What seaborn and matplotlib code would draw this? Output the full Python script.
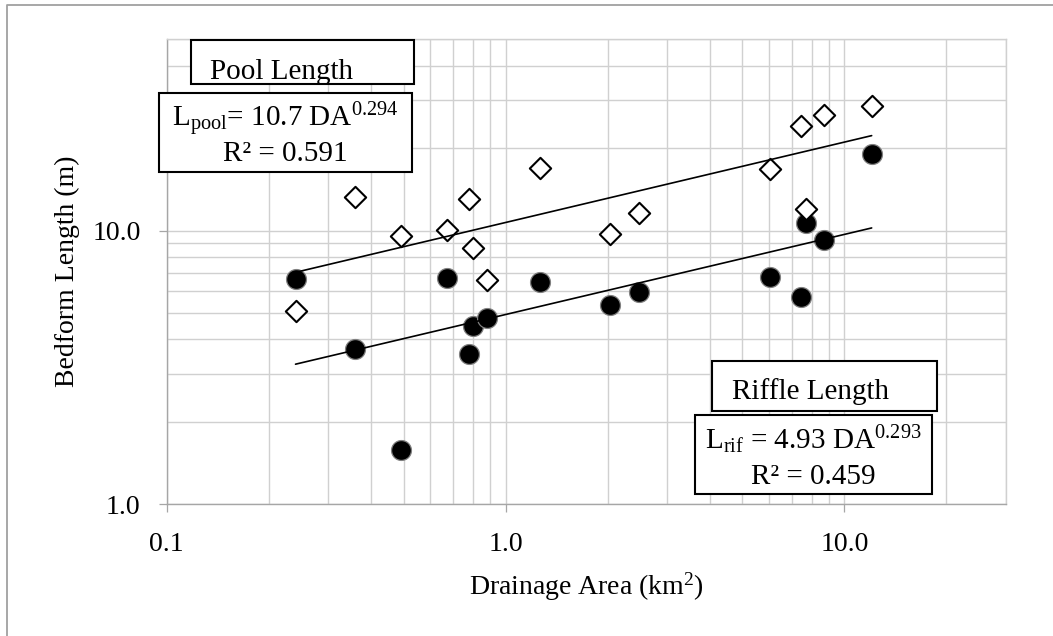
import numpy as np
import pandas as pd
import matplotlib
matplotlib.use("Agg")
import matplotlib.pyplot as plt
import seaborn as sns
from matplotlib.patches import Rectangle
from matplotlib.lines import Line2D
from matplotlib.ticker import LogLocator, FuncFormatter, NullFormatter

# Site drainage areas (km2) and measured bedform lengths (m)
drainage_area = [0.24, 0.36, 0.49, 0.67, 0.78, 0.80, 0.88, 1.26, 2.03, 2.47, 6.05, 7.45, 7.71, 8.73, 12.04]
pool_length = [5.08, 13.3, 9.56, 10.06, 13.06, 8.66, 6.60, 16.9, 9.72, 11.6, 16.8, 24.2, 12.0, 26.4, 28.6]
riffle_length = [6.64, 3.68, 1.57, 6.70, 3.53, 4.48, 4.78, 6.48, 5.32, 5.95, 6.75, 5.71, 10.7, 9.25, 19.0]

# Power-law fits L = a * DA^b
pool_coef, pool_exp, pool_r2 = 10.7, 0.294, 0.591
rif_coef, rif_exp, rif_r2 = 4.93, 0.293, 0.459

x_ticks = [0.1, 1.0, 10.0]
y_ticks = [1.0, 10.0]

sns.set_theme(style="white")
plt.rcParams["font.family"] = ["Liberation Serif", "DejaVu Serif"]
plt.rcParams["mathtext.fontset"] = "custom"
plt.rcParams["mathtext.rm"] = "Liberation Serif"
plt.rcParams["mathtext.it"] = "Liberation Serif:italic"
plt.rcParams["mathtext.bf"] = "Liberation Serif:bold"

W, H = 1053, 636
fig = plt.figure(figsize=(W / 100, H / 100), dpi=100)
fig.patch.set_facecolor("white")
ax = fig.add_axes([166.7 / W, 1 - 504 / H, (1006 - 166.7) / W, (504 - 39.4) / H])

df = pd.DataFrame({"DA": drainage_area, "Pool": pool_length, "Riffle": riffle_length})

# Trend lines spanning the observed drainage areas
x_fit = np.array([min(drainage_area), max(drainage_area)])
fit_df = pd.DataFrame({
    "DA": x_fit,
    "PoolFit": pool_coef * x_fit ** pool_exp,
    "RifFit": rif_coef * x_fit ** rif_exp,
})

sns.scatterplot(data=df, x="DA", y="Riffle", marker="o", s=205, color="black",
                edgecolor="#808080", linewidth=0.9, ax=ax, zorder=4)
sns.scatterplot(data=df, x="DA", y="Pool", marker="D", s=118, color="white",
                edgecolor="black", linewidth=1.5, ax=ax, zorder=4)
sns.lineplot(data=fit_df, x="DA", y="PoolFit", color="black", linewidth=1.2, ax=ax, zorder=5)
sns.lineplot(data=fit_df, x="DA", y="RifFit", color="black", linewidth=1.2, ax=ax, zorder=5)

ax.set_xscale("log")
ax.set_yscale("log")
ax.set_xlim(0.1, 30)
ax.set_ylim(1, 50)

fmt = FuncFormatter(lambda v, p: f"{v:.1f}")
ax.xaxis.set_major_locator(plt.FixedLocator(x_ticks))
ax.yaxis.set_major_locator(plt.FixedLocator(y_ticks))
ax.xaxis.set_major_formatter(fmt)
ax.yaxis.set_major_formatter(fmt)
ax.xaxis.set_minor_locator(LogLocator(base=10, subs=np.arange(2, 10)))
ax.yaxis.set_minor_locator(LogLocator(base=10, subs=np.arange(2, 10)))
ax.xaxis.set_minor_formatter(NullFormatter())
ax.yaxis.set_minor_formatter(NullFormatter())

ax.set_axisbelow(True)
ax.grid(True, which="both", color="#d0d0d0", linewidth=1.0)
ax.tick_params(which="major", direction="out", length=5.8, width=0.9, color="#a6a6a6",
               labelsize=20, labelcolor="black", left=True, bottom=True, top=False, right=False)
ax.tick_params(axis="y", which="major", pad=13)
ax.tick_params(axis="x", which="major", pad=14.4)
ax.tick_params(which="minor", length=0)

for side in ("left", "bottom"):
    ax.spines[side].set_color("#a6a6a6")
    ax.spines[side].set_linewidth(1.0)
for side in ("top", "right"):
    ax.spines[side].set_color("#d0d0d0")
    ax.spines[side].set_linewidth(1.0)

ax.set_xlabel("Drainage Area (km$^{2}$)", fontsize=20, color="black")
ax.xaxis.set_label_coords(0.5, -0.196)
ax.xaxis.label.set_va("baseline")
ax.set_ylabel("Bedform Length (m)", fontsize=20, color="black", va="center")
ax.yaxis.set_label_coords(-0.1182, 0.5)


def box(x0, y0, x1, y1):
    fig.add_artist(Rectangle((x0 / W, 1 - y1 / H), (x1 - x0) / W, (y1 - y0) / H,
                             transform=fig.transFigure, facecolor="white",
                             edgecolor="black", linewidth=1.5, zorder=10))


def label(x, y, s, ha="center"):
    fig.text(x / W, 1 - y / H, s, ha=ha, va="baseline", fontsize=21,
             color="black", zorder=11)


# Pool annotation
box(190.7, 40, 414.3, 84)
label(210, 79, "Pool Length", ha="left")
box(159.3, 92.7, 411.7, 171.7)
label(285.5, 126.7, r"L$_{\mathrm{pool}}$= " + f"{pool_coef} DA" + r"$^{" + f"{pool_exp}" + r"}$")
label(285.5, 160.7, f"R² = {pool_r2}")

# Riffle annotation
box(711.7, 360.7, 936.7, 411)
label(731.7, 399.3, "Riffle Length", ha="left")
box(695.3, 415, 932.3, 494.3)
label(813.8, 449.3, r"L$_{\mathrm{rif}}$ = " + f"{rif_coef} DA" + r"$^{" + f"{rif_exp}" + r"}$")
label(813.8, 484, f"R² = {rif_r2}")

# Chart-area border
fig.add_artist(Line2D([7 / W, 7 / W, 1], [0, 1 - 5 / H, 1 - 5 / H],
                      transform=fig.transFigure, color="#a0a0a0", linewidth=1.3))

fig.savefig("out.png", dpi=100)
